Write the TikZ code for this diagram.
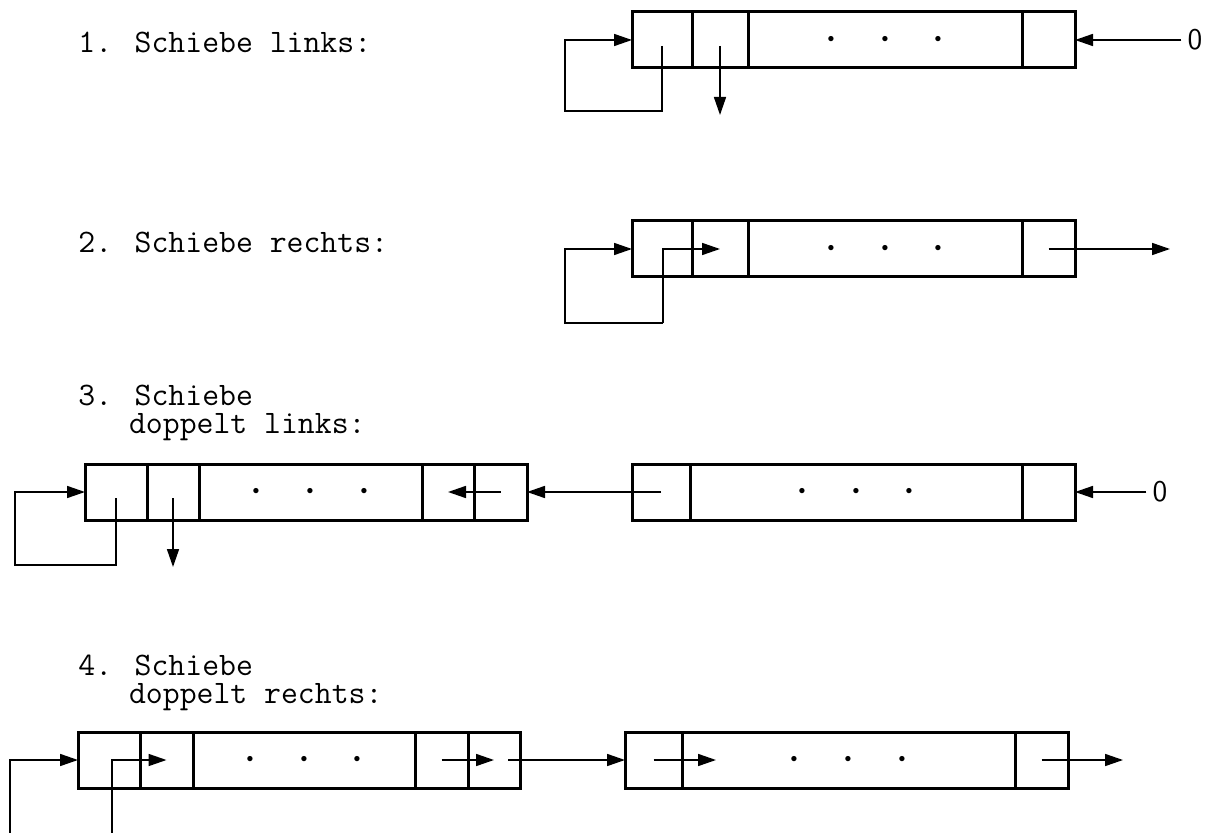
\documentclass[tikz,border=0pt]{standalone}
\usepackage{tikz}
\usetikzlibrary{arrows.meta}

\newcommand{\punkte}{$\cdot$\hspace{20pt}$\cdot$\hspace{20pt}$\cdot$}

\begin{document}
\begin{tikzpicture}[x=0.5pt, y=-0.5pt]
    \tikzstyle{cell}=[draw, line width=1.5pt, minimum height=28pt, inner sep=0pt,
                      outer sep=0pt, anchor=west, font=\fontsize{26}{26}\selectfont]
    \tikzstyle{arr}=[-{Triangle[length=9pt, width=6pt]}, line width=0.8pt]
    \tikzstyle{lbl}=[anchor=base west, align=left, inner sep=0pt,
                     font=\ttfamily\fontsize{16.4}{14}\selectfont]
    \tikzstyle{null}=[inner sep=3pt, font=\sffamily\fontsize{15}{15}\selectfont]

    \useasboundingbox (0,0) rectangle (1208,833);

    % 1. links
    \node[lbl] (t1) at (78,53) {1. Schiebe links:};
    \node[cell, minimum width=30pt]   (a1) at (632,40) {};
    \node[cell, minimum width=28pt]   (a2) at (692,40) {};
    \node[cell, minimum width=137pt]  (a3) at (748,40) {\punkte};
    \node[cell, minimum width=26.5pt] (a4) at (1022,40) {};
    \node[null] (n1) at (1195,40) {0};
    \coordinate (s1) at (565,111);
    \coordinate (o1) at (720,115);

    \draw[arr] ([yshift=-3pt]a1.center) |- (s1) |- (a1.west);
    \draw[arr] ([yshift=-3pt]a2.center) -- (o1);
    \draw[arr] (n1) -- (a4);

    % 2. rechts
    \node[lbl] (t2) at (78,253) {2. Schiebe rechts:};
    \node[cell, minimum width=30pt]   (b1) at (632,249) {};
    \node[cell, minimum width=28pt]   (b2) at (692,249) {};
    \node[cell, minimum width=137pt]  (b3) at (748,249) {\punkte};
    \node[cell, minimum width=26.5pt] (b4) at (1022,249) {};
    \coordinate (s2)  at (565,323);
    \coordinate (s2r) at (663,323);
    \coordinate (o2)  at (1170,249);

    \draw[arr] (s2r) -- (s2) |- (b1.west);
    \draw[arr] (s2r) |- (b2.center);
    \draw[arr] (b4.center) -- (o2);

    % 3. doppelt links
    \node[lbl] (t3) at (78,434) {3. Schiebe\\\phantom{3.~}doppelt links:};
    \node[cell, minimum width=31pt]    (c1) at (85,492) {};
    \node[cell, minimum width=26pt]    (c2) at (147,492) {};
    \node[cell, minimum width=111.5pt] (c3) at (199,492) {\punkte};
    \node[cell, minimum width=26pt]    (c4) at (422,492) {};
    \node[cell, minimum width=26.5pt]  (c5) at (474,492) {};
    \node[cell, minimum width=29pt]    (d1) at (632,492) {};
    \node[cell, minimum width=166pt]   (d2) at (690,492) {\punkte};
    \node[cell, minimum width=26.5pt]  (d3) at (1022,492) {};
    \node[null] (n3) at (1160,492) {0};
    \coordinate (s3) at (15,565);
    \coordinate (o3) at (173,567);

    \draw[arr] ([yshift=-3pt]c1.center) |- (s3) |- (c1.west);
    \draw[arr] ([yshift=-3pt]c2.center) -- (o3);
    \draw[arr] (c5.center) -- (c4.center);
    \draw[arr] (d1.center) -- (c5.east);
    \draw[arr] (n3) -- (d3);

    % 4. doppelt rechts
    \node[lbl] (t4) at (78,703) {4. Schiebe\\\phantom{4.~}doppelt rechts:};
    \node[cell, minimum width=31pt]    (e1) at (78,760) {};
    \node[cell, minimum width=26.5pt]  (e2) at (140,760) {};
    \node[cell, minimum width=111pt]   (e3) at (193,760) {\punkte};
    \node[cell, minimum width=26.5pt]  (e4) at (415,760) {};
    \node[cell, minimum width=26pt]    (e5) at (468,760) {};
    \node[cell, minimum width=28.5pt]  (f1) at (625,760) {};
    \node[cell, minimum width=166.5pt] (f2) at (682,760) {\punkte};
    \node[cell, minimum width=26.5pt]  (f3) at (1015,760) {};
    \coordinate (s4a) at (10,833);
    \coordinate (s4b) at (112,833);
    \coordinate (o4)  at (1123,760);

    \draw[arr] (s4a) |- (e1.west);
    \draw[arr] (s4b) |- (e2.center);
    \draw[arr] (e4.center) -- (e5.center);
    \draw[arr] ([xshift=7pt]e5.center) -- (f1.west);
    \draw[arr] (f1.center) -- ([xshift=17pt]f2.west);
    \draw[arr] (f3.center) -- (o4);
\end{tikzpicture}
\end{document}
